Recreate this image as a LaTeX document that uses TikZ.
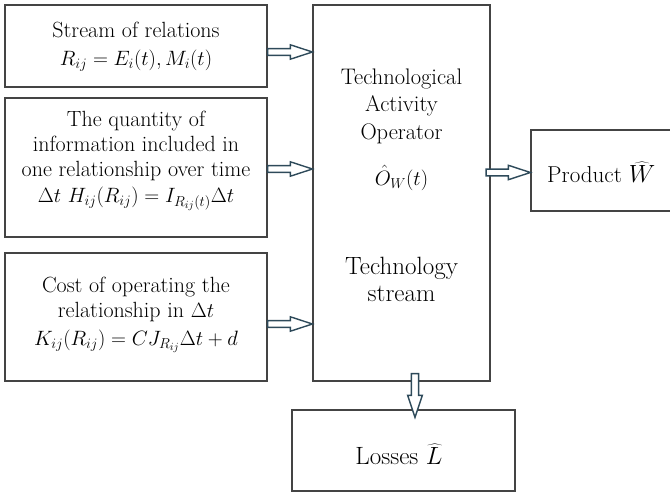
\documentclass[tikz,border=0pt]{standalone}
\usetikzlibrary{calc}
\definecolor{boxline}{HTML}{444444}
\definecolor{arrline}{HTML}{2E4A5A}
\newcommand{\harrowx}[2]{\draw[arr] ($(#1)+(0,-3.4)$) -- ($(#2)+(-22,-3.4)$) -- ($(#2)+(-22,-7.2)$) -- (#2) -- ($(#2)+(-22,7.2)$) -- ($(#2)+(-22,3.4)$) -- ($(#1)+(0,3.4)$) -- cycle;}
\newcommand{\varrowx}[2]{\draw[arr] ($(#1)+(-3.6,0)$) -- ($(#2)+(-3.6,-22)$) -- ($(#2)+(-7.3,-22)$) -- (#2) -- ($(#2)+(7.3,-22)$) -- ($(#2)+(3.6,-22)$) -- ($(#1)+(3.6,0)$) -- cycle;}
\begin{document}
\begin{tikzpicture}[x=1pt,y=-1pt,
  box/.style={draw=boxline, line width=1.2pt, rectangle, inner sep=0pt},
  txt/.style={align=center, inner sep=0pt, font=\fontsize{22}{25}\selectfont},
  bigtxt/.style={align=center, inner sep=0pt, font=\fontsize{25}{27}\selectfont},
  arr/.style={draw=arrline, line width=1.4pt, fill=white, line join=miter}]
\useasboundingbox (0,0) rectangle (670,495);
% boxes
\node[box, minimum width=262, minimum height=82] (b1) at (136,46) {};
\node[box, minimum width=262, minimum height=139] (b2) at (136,167.5) {};
\node[box, minimum width=262, minimum height=128] (b3) at (136,317) {};
\node[box, minimum width=177, minimum height=376] (op) at (401.5,193) {};
\node[box, minimum width=142, minimum height=81] (pr) at (602,170.5) {};
\node[box, minimum width=223, minimum height=81] (ls) at (403.5,450.5) {};
% texts
\node[txt] (t1) at (136,47) {Stream of relations\\[3pt] $R_{ij} = E_i(t), M_i(t)$};
\node[txt] (t2) at (136,161) {The quantity of\\ information included in\\ one relationship over time\\[1pt] $\Delta t\ H_{ij}\bigl(R_{ij}\bigr) = I_{R_{ij}(t)}\Delta t$};
\node[txt] (t3) at (136,315) {Cost of operating the\\ relationship in $\Delta t$\\[3pt] $K_{ij}\bigl(R_{ij}\bigr) = CJ_{R_{ij}}\Delta t + d$};
\node[txt, font=\fontsize{22.5}{27.5}\selectfont] (t4) at (401.5,106) {Technological\\ Activity\\ Operator};
\node[txt] (t5) at (401.5,178) {$\hat{O}_W(t)$};
\node[bigtxt] (t6) at (401.5,279) {Technology\\ stream};
\node[txt, anchor=west, font=\fontsize{23}{26}\selectfont] (t7) at (547,172) {Product $\widehat{W}$};
\node[txt, font=\fontsize{25}{28}\selectfont] (t8) at (399,454) {Losses $\widehat{L}$};
% arrows
\coordinate (a1s) at ($(b1.east)+(0,6)$);
\coordinate (a1e) at (op.west |- a1s);
\coordinate (a2s) at ($(b2.east)+(0,1.5)$);
\coordinate (a2e) at (op.west |- a2s);
\coordinate (a3s) at ($(b3.east)+(0,7)$);
\coordinate (a3e) at (op.west |- a3s);
\coordinate (a4s) at ($(op.east |- pr.west)+(-4.5,2)$);
\coordinate (a4e) at ($(pr.west)+(0,2)$);
\coordinate (a5s) at ($(op.south)+(13.5,-8)$);
\coordinate (a5e) at ($(ls.north)+(11.5,8)$);
\harrowx{a1s}{a1e}
\harrowx{a2s}{a2e}
\harrowx{a3s}{a3e}
\harrowx{a4s}{a4e}
\varrowx{a5s}{a5e}
\end{tikzpicture}
\end{document}
